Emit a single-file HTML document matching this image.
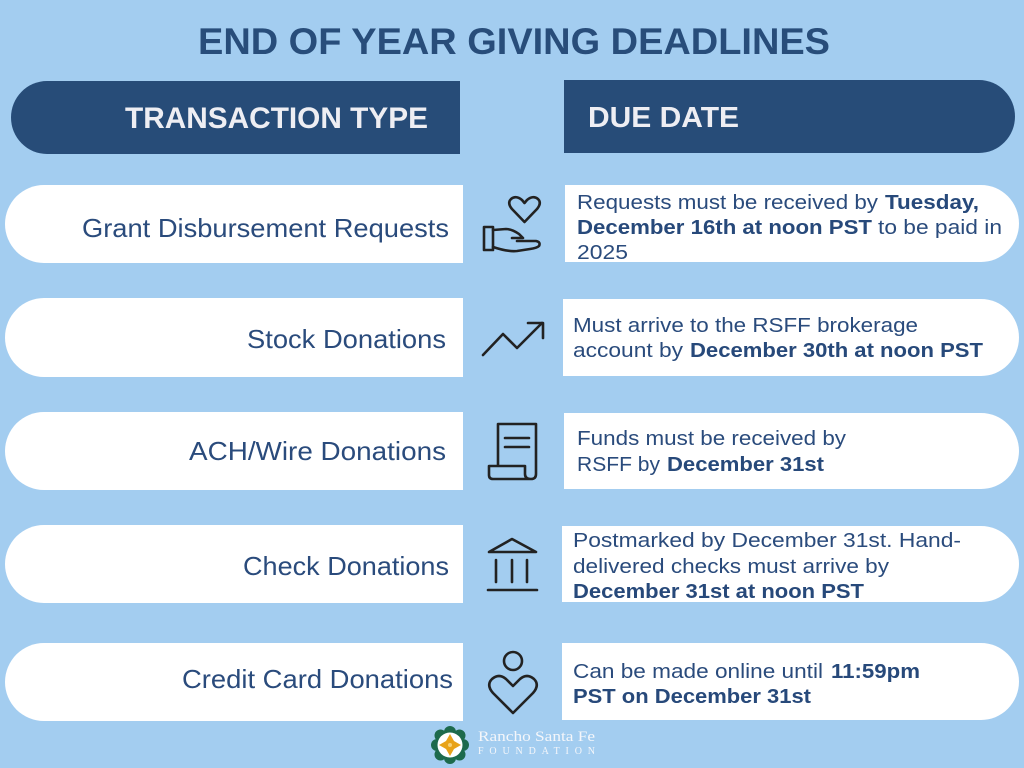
<!DOCTYPE html>
<html>
<head>
<meta charset="utf-8">
<style>
html,body{margin:0;padding:0;background:#a3cdf0;}
svg{display:block;}
text{font-family:"Liberation Sans",sans-serif;}
.t{fill:#2a4b7c;font-size:20px;}
.b{fill:#27497a;font-size:20px;font-weight:bold;}
.l{fill:#2a4b7c;font-size:26px;}
.ic{fill:none;stroke:#222;stroke-width:2.6;stroke-linejoin:round;stroke-linecap:round;}
</style>
</head>
<body>
<svg width="1024" height="768" viewBox="0 0 1024 768" xmlns="http://www.w3.org/2000/svg">
<rect x="0" y="0" width="1024" height="768" fill="#a3cdf0"/>

<!-- Title -->
<text x="198" y="54" font-size="37" font-weight="bold" fill="#284d7a" textLength="632" lengthAdjust="spacingAndGlyphs">END OF YEAR GIVING DEADLINES</text>

<!-- Header pills -->
<rect x="11" y="81" width="449" height="73" rx="36" ry="36.5" fill="#274c78"/>
<rect x="100" y="81" width="360" height="73" fill="#274c78"/>
<rect x="564" y="80" width="451" height="73" rx="36" ry="36.5" fill="#274c78"/>
<rect x="564" y="80" width="360" height="73" fill="#274c78"/>
<text x="125" y="128" font-size="30" font-weight="bold" fill="#eeeef3" textLength="303" lengthAdjust="spacingAndGlyphs">TRANSACTION TYPE</text>
<text x="588" y="127" font-size="29" font-weight="bold" fill="#eeeef3" textLength="151" lengthAdjust="spacingAndGlyphs">DUE DATE</text>

<!-- Left white pills -->
<g fill="#ffffff">
<rect x="5" y="185" width="458" height="78" rx="39" ry="39"/><rect x="100" y="185" width="363" height="78"/>
<rect x="5" y="298" width="458" height="79" rx="39" ry="39.5"/><rect x="100" y="298" width="363" height="79"/>
<rect x="5" y="412" width="458" height="78" rx="39" ry="39"/><rect x="100" y="412" width="363" height="78"/>
<rect x="5" y="525" width="458" height="78" rx="39" ry="39"/><rect x="100" y="525" width="363" height="78"/>
<rect x="5" y="643" width="458" height="78" rx="39" ry="39"/><rect x="100" y="643" width="363" height="78"/>
</g>

<!-- Right white pills -->
<g fill="#ffffff">
<rect x="565" y="185" width="454" height="77" rx="38" ry="38.5"/><rect x="565" y="185" width="380" height="77"/>
<rect x="563" y="299" width="456" height="77" rx="38" ry="38.5"/><rect x="563" y="299" width="380" height="77"/>
<rect x="564" y="413" width="455" height="76" rx="38" ry="38"/><rect x="564" y="413" width="380" height="76"/>
<rect x="562" y="526" width="457" height="76" rx="38" ry="38"/><rect x="562" y="526" width="380" height="76"/>
<rect x="562" y="643" width="457" height="77" rx="38" ry="38.5"/><rect x="562" y="643" width="380" height="77"/>
</g>

<!-- Left labels -->
<text class="l" x="82" y="237" textLength="367" lengthAdjust="spacingAndGlyphs">Grant Disbursement Requests</text>
<text class="l" x="247" y="348" textLength="199" lengthAdjust="spacingAndGlyphs">Stock Donations</text>
<text class="l" x="189" y="460" textLength="257" lengthAdjust="spacingAndGlyphs">ACH/Wire Donations</text>
<text class="l" x="243" y="575" textLength="206" lengthAdjust="spacingAndGlyphs">Check Donations</text>
<text class="l" x="182" y="688" textLength="271" lengthAdjust="spacingAndGlyphs">Credit Card Donations</text>

<!-- Right texts -->
<text class="t" x="577" y="209" textLength="301" lengthAdjust="spacingAndGlyphs">Requests must be received by</text>
<text class="b" x="885" y="209" textLength="94" lengthAdjust="spacingAndGlyphs">Tuesday,</text>
<text class="b" x="577" y="234" textLength="295" lengthAdjust="spacingAndGlyphs">December 16th at noon PST</text>
<text class="t" x="878" y="234" textLength="124" lengthAdjust="spacingAndGlyphs">to be paid in</text>
<text class="t" x="577" y="259" textLength="51" lengthAdjust="spacingAndGlyphs">2025</text>

<text class="t" x="573" y="332" textLength="345" lengthAdjust="spacingAndGlyphs">Must arrive to the RSFF brokerage</text>
<text class="t" x="573" y="357" textLength="110" lengthAdjust="spacingAndGlyphs">account by</text>
<text class="b" x="690" y="357" textLength="293" lengthAdjust="spacingAndGlyphs">December 30th at noon PST</text>

<text class="t" x="577" y="445" textLength="269" lengthAdjust="spacingAndGlyphs">Funds must be received by</text>
<text class="t" x="577" y="471" textLength="83" lengthAdjust="spacingAndGlyphs">RSFF by</text>
<text class="b" x="667" y="471" textLength="157" lengthAdjust="spacingAndGlyphs">December 31st</text>

<text class="t" x="573" y="547" textLength="388" lengthAdjust="spacingAndGlyphs">Postmarked by December 31st. Hand-</text>
<text class="t" x="573" y="573" textLength="316" lengthAdjust="spacingAndGlyphs">delivered checks must arrive by</text>
<text class="b" x="573" y="598" textLength="291" lengthAdjust="spacingAndGlyphs">December 31st at noon PST</text>

<text class="t" x="573" y="678" textLength="250" lengthAdjust="spacingAndGlyphs">Can be made online until</text>
<text class="b" x="831" y="678" textLength="89" lengthAdjust="spacingAndGlyphs">11:59pm</text>
<text class="b" x="573" y="703" textLength="238" lengthAdjust="spacingAndGlyphs">PST on December 31st</text>

<!-- Icon 1: heart in hand -->
<path class="ic" d="M524.5 222 L512 209 Q507 203 511 199 Q516 195 522 200 L524.5 203 L527 200 Q533 195 538 199 Q542 203 537 209 Z"/>
<rect class="ic" x="484" y="227" width="9" height="23"/>
<path class="ic" d="M493 230 L506 229 Q512 229 519 234 L523 238 L512 238"/>
<path class="ic" d="M517 241 L536 241 Q541 242 539 246 Q537 248 530 249 L517 251 Q508 252 493 247"/>

<!-- Icon 2: stock arrow -->
<path class="ic" d="M483 355 L503 334 L517 348 L542 323"/>
<path class="ic" d="M528 323 L543 323 L543 338"/>

<!-- Icon 3: document -->
<path class="ic" d="M498 466 L498 424 L536 424 L536 474 Q536 479 531 479 Q525 479 525 474 L525 466 L489 466 L489 475 Q489 479 493 479 L531 479"/>
<path class="ic" d="M505 438 L529 438 M505 447 L529 447"/>

<!-- Icon 4: bank -->
<path class="ic" d="M489 552 L512 539 L536 552 Z"/>
<path class="ic" d="M496 560 L496 582 M512 560 L512 582 M527 560 L527 582 M488 590 L537 590"/>

<!-- Icon 5: person heart -->
<circle class="ic" cx="513" cy="661" r="9"/>
<path class="ic" d="M513 713 L493 693 Q486 685 492 679 Q499 673 506 679 L513 686 L520 679 Q527 673 534 679 Q540 685 533 693 Z"/>

<!-- Logo -->
<g transform="translate(450,745)">
  <g fill="#1d6a4c">
    <circle r="14"/>
    <circle cx="0" cy="-13" r="6"/><circle cx="0" cy="13" r="6"/>
    <circle cx="-13" cy="0" r="6"/><circle cx="13" cy="0" r="6"/>
    <circle cx="9.5" cy="-9.5" r="6"/><circle cx="-9.5" cy="-9.5" r="6"/>
    <circle cx="9.5" cy="9.5" r="6"/><circle cx="-9.5" cy="9.5" r="6"/>
  </g>
  <circle r="12.5" fill="#ffffff"/>
  <g fill="#e8a31a">
    <path d="M0 -11 L4 -4 L11 0 L4 4 L0 11 L-4 4 L-11 0 L-4 -4 Z"/>
    <circle r="5"/>
  </g>
  <circle r="2" fill="#f6d27a"/>
</g>
<text x="478" y="741" font-size="15" fill="#f4f6fa" textLength="117" lengthAdjust="spacingAndGlyphs" style="font-family:'Liberation Serif',serif">Rancho Santa Fe</text>
<text x="478" y="754" font-size="10" fill="#f4f6fa" textLength="117" lengthAdjust="spacing" style="font-family:'Liberation Serif',serif">FOUNDATION</text>
</svg>
</body>
</html>
